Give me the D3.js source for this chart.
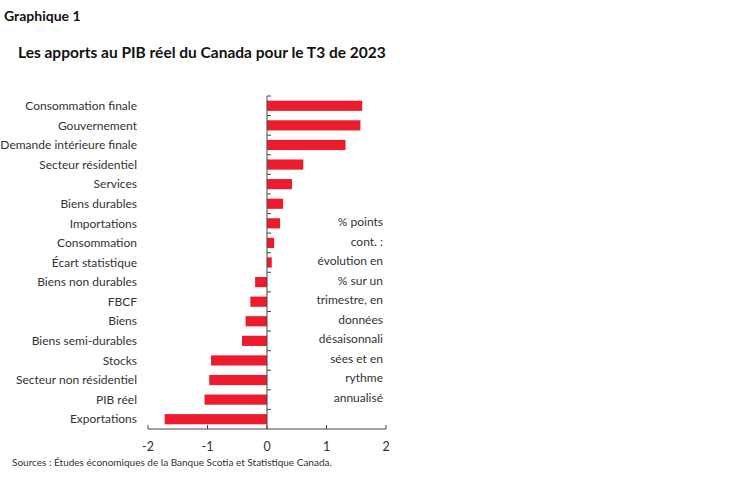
<!DOCTYPE html>
<html><head><meta charset="utf-8">
<script src="https://cdn.jsdelivr.net/npm/d3@7"></script>
<style>body{margin:0;background:#fff}text{font-family:Lato,"Open Sans",sans-serif}</style>
</head><body><svg id="c" width="748" height="483"></svg>
<script>
const categories=["Consommation finale","Gouvernement","Demande intérieure finale","Secteur résidentiel","Services","Biens durables","Importations","Consommation","Écart statistique","Biens non durables","FBCF","Biens","Biens semi-durables","Stocks","Secteur non résidentiel","PIB réel","Exportations"];
const values=[1.60,1.57,1.32,0.61,0.42,0.27,0.22,0.12,0.08,-0.20,-0.28,-0.36,-0.42,-0.94,-0.97,-1.05,-1.72];
const xTicks=[-2,-1,0,1,2];
const note=["% points","cont. :","évolution en","% sur un","trimestre, en","données","désaisonnali","sées et en","rythme","annualisé"];
const svg=d3.select("#c");
svg.append("text").attr("x",4).attr("y",21).attr("font-size",14).attr("font-weight","bold").attr("fill","#111").text("Graphique 1");
svg.append("text").attr("x",18).attr("y",58).attr("font-size",15.5).attr("font-weight","bold").attr("fill","#111").text("Les apports au PIB réel du Canada pour le T3 de 2023");
const x=d3.scaleLinear().domain([-2,2]).range([148,386]);
const y=d3.scaleBand().domain(categories).range([96,429]).paddingInner(0.48).paddingOuter(0.24);
svg.selectAll("rect").data(values).join("rect")
 .attr("x",d=>x(Math.min(0,d))).attr("width",d=>Math.abs(x(d)-x(0)))
 .attr("y",(d,i)=>y(categories[i])).attr("height",y.bandwidth()).attr("fill","#ec1c2e");
// y axis
const step=(429-96)/categories.length;
svg.append("line").attr("x1",x(0)).attr("x2",x(0)).attr("y1",96).attr("y2",429).attr("stroke","#444");
d3.range(categories.length).forEach(i=>{svg.append("line").attr("x1",x(0)).attr("x2",x(0)+4).attr("y1",96+i*step).attr("y2",96+i*step).attr("stroke","#444");});
svg.selectAll("text.cat").data(categories).join("text").attr("class","cat")
 .attr("x",137).attr("y",d=>y(d)+y.bandwidth()/2).attr("dy","0.35em").attr("text-anchor","end")
 .attr("font-size",12).attr("fill","#333").text(d=>d);
// x axis
svg.append("line").attr("x1",148).attr("x2",386).attr("y1",429).attr("y2",429).attr("stroke","#444");
xTicks.forEach(t=>{svg.append("line").attr("x1",x(t)).attr("x2",x(t)).attr("y1",429).attr("y2",425).attr("stroke","#444");
 svg.append("text").attr("x",x(t)).attr("y",451).attr("text-anchor","middle").attr("font-size",12.5).attr("fill","#333").text(t);});
svg.append("text").attr("text-anchor","end").selectAll("tspan").data(note).join("tspan")
 .attr("x",383).attr("y",(d,i)=>226+i*19.5).attr("font-size",12).attr("fill","#333").text(d=>d);
svg.append("text").attr("x",12).attr("y",466).attr("font-size",10).attr("fill","#333").text("Sources : Études économiques de la Banque Scotia et Statistique Canada.");
</script></body></html>
